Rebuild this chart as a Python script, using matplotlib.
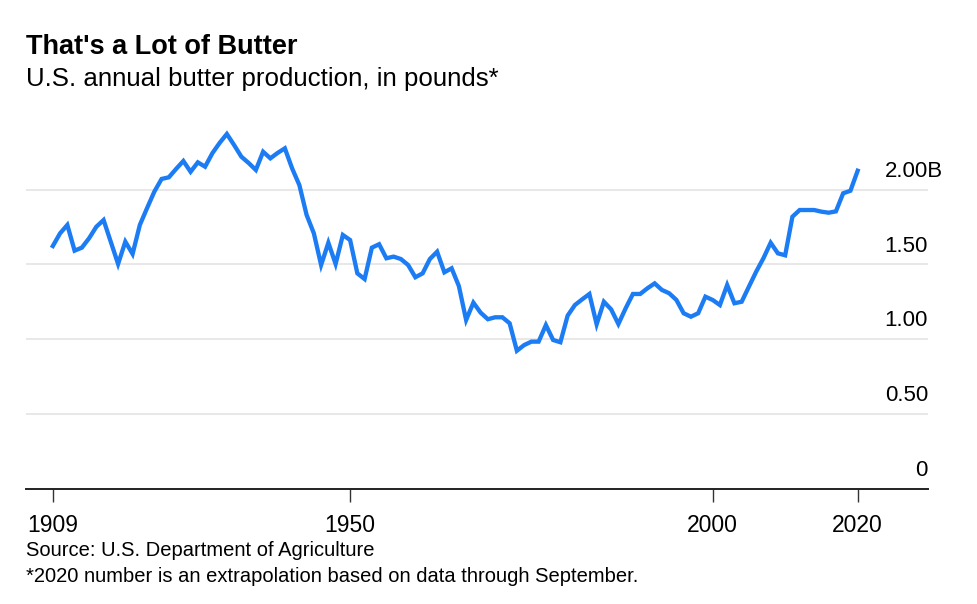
import numpy as np
import matplotlib
matplotlib.use('Agg')
import matplotlib.pyplot as plt

plt.rcParams['font.family'] = ['Liberation Sans', 'DejaVu Sans']

# annual butter production, billions of pounds
years = np.arange(1909, 2021)
butter = [
    1.623, 1.708, 1.764, 1.592, 1.612, 1.675, 1.752, 1.797, 1.650, 1.503,  # 1909-1918
    1.652, 1.570, 1.764, 1.877, 1.987, 2.072, 2.083, 2.139, 2.192, 2.120,  # 1919-1928
    2.183, 2.154, 2.244, 2.313, 2.373, 2.299, 2.221, 2.179, 2.132, 2.254,  # 1929-1938
    2.210, 2.246, 2.277, 2.143, 2.031, 1.831, 1.708, 1.496, 1.645, 1.503,  # 1939-1948
    1.697, 1.663, 1.440, 1.402, 1.612, 1.635, 1.541, 1.552, 1.536, 1.496,  # 1949-1958
    1.414, 1.440, 1.536, 1.585, 1.447, 1.474, 1.355, 1.128, 1.244, 1.177,  # 1959-1968
    1.133, 1.146, 1.146, 1.106, 0.922, 0.960, 0.983, 0.983, 1.094, 0.994,  # 1969-1978
    0.979, 1.157, 1.228, 1.266, 1.302, 1.099, 1.250, 1.199, 1.101, 1.206,  # 1979-1988
    1.302, 1.302, 1.340, 1.373, 1.329, 1.307, 1.262, 1.173, 1.150, 1.173,  # 1989-1998
    1.284, 1.262, 1.228, 1.362, 1.240, 1.250, 1.351, 1.451, 1.541, 1.645,  # 1999-2008
    1.574, 1.561, 1.819, 1.864, 1.864, 1.864, 1.853, 1.846, 1.855, 1.976,  # 2009-2018
    1.993, 2.127,                                                          # 2019-2020
]
xticks = [1909, 1950, 2000, 2020]
yticks = [0, 0.5, 1.0, 1.5, 2.0]
ylabels = ['0', '0.50', '1.00', '1.50', '2.00B']

W, H = 978, 604
fig = plt.figure(figsize=(W/100, H/100), dpi=100)
ax = fig.add_axes([26/W, (H-488.5)/H, (928-26)/W, (488.5-115)/H])

ax.plot(years, butter, color='#1c7cf4', linewidth=3.1, solid_joinstyle='miter', zorder=5)

ax.set_xlim(1905.3, 2029.7)
ax.set_ylim(0, 2.5)

for v in yticks[1:]:
    ax.axhline(v, color='#e8e8e8', linewidth=1.4, zorder=1)

for s in ['top', 'right', 'left']:
    ax.spines[s].set_visible(False)
ax.spines['bottom'].set_color('#222222')
ax.spines['bottom'].set_linewidth(1.4)
ax.spines['bottom'].set_zorder(6)

ax.set_yticks([])
ax.set_xticks(xticks)
ax.set_xticklabels([str(t) for t in xticks], fontsize=16.5)
ax.tick_params(axis='x', length=9, width=1, color='#333333', pad=9)

# value labels sit above their gridlines, numbers right-aligned; the "B" hangs past the edge
for v, lbl in zip(yticks, ylabels):
    dx = 10.7 if lbl.endswith('B') else 0
    ax.annotate(lbl, xy=(1, v), xycoords=('axes fraction', 'data'),
                xytext=(dx, 5.5), textcoords='offset points',
                ha='right', va='bottom', fontsize=16)

fig.text(26/W, 1-47/H, "That's a Lot of Butter", fontsize=19.5,
         fontweight='bold', ha='left', va='center')
fig.text(26/W, 1-79/H, 'U.S. annual butter production, in pounds*', fontsize=18.6,
         ha='left', va='center')
fig.text(26/W, 1-551/H, 'Source: U.S. Department of Agriculture', fontsize=14.5,
         ha='left', va='center')
fig.text(26/W, 1-576/H, '*2020 number is an extrapolation based on data through September.',
         fontsize=14.5, ha='left', va='center')

fig.savefig('out.png', dpi=100)
